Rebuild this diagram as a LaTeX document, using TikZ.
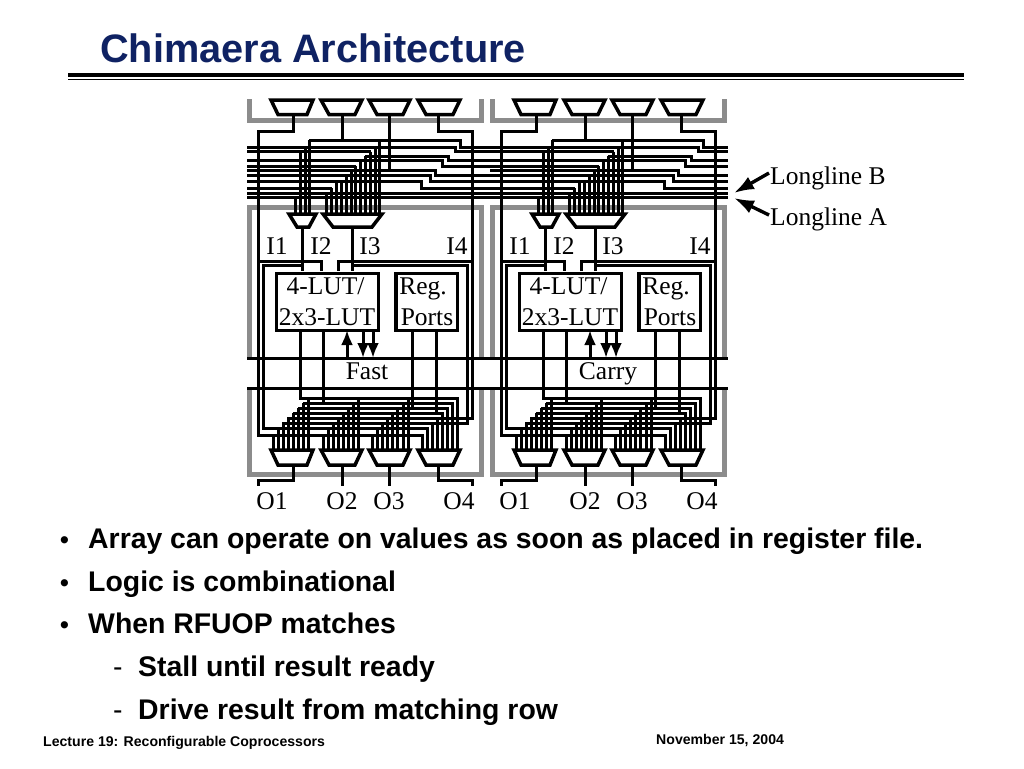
\documentclass[tikz,border=0pt]{standalone}
\usepackage{fontspec}
\setmainfont{Liberation Sans}
\newfontfamily\figfont{Liberation Serif}
\usetikzlibrary{arrows.meta}
\definecolor{navy}{HTML}{0F2263}
\definecolor{frame}{HTML}{8C8C8C}
\tikzset{
  wire/.style={draw=black,line width=3pt,line cap=butt,line join=miter},
  gframe/.style={draw=frame,line width=5pt,line join=miter},
  muxshape/.style={draw=black,line width=3.5pt,line join=miter,fill=white},
  boxshape/.style={draw=black,line width=3.3pt,fill=white,inner sep=0pt,anchor=north west},
  figlabel/.style={font=\figfont\fontsize{25.5}{27}\selectfont,inner sep=0pt,anchor=base},
  bulletlabel/.style={font=\bfseries\fontsize{28.4}{30}\selectfont,anchor=base west,inner sep=0pt},
  dashlabel/.style={font=\fontsize{28.4}{30}\selectfont,anchor=base west,inner sep=0pt},
  bulletdot/.style={font=\bfseries\fontsize{25}{30}\selectfont,anchor=base west,inner sep=0pt},
  footlabel/.style={font=\bfseries\fontsize{14.1}{16}\selectfont,anchor=base west,inner sep=0pt},
  arrowwire/.style={draw=black,line width=3pt,-{Latex[length=15pt,width=12pt]}},
  longarrow/.style={draw=black,line width=3.4pt,-{Latex[length=20pt,width=14pt]}}
}
\begin{document}
\begin{tikzpicture}[x=1pt,y=-1pt]
\useasboundingbox (0,0) rectangle (1024,768);
\fill[white] (0,0) rectangle (1024,768);
% title
\node[anchor=base west,inner sep=0pt,font=\bfseries\fontsize{39.7}{41}\selectfont,text=navy] (title) at (100,63) {Chimaera Architecture};
\coordinate (ruleL) at (68,75.3); \coordinate (ruleR) at (964,75.3);
\draw[black,line width=3.8pt] (ruleL) -- (ruleR);
\coordinate (rule2L) at (68,79.3); \coordinate (rule2R) at (964,79.3);
\draw[black,line width=1.2pt] (rule2L) -- (rule2R);
\foreach \o/\r in {0/490,243/485}{
\begin{scope}[xshift=\o pt]
  % grey frames
  \draw[gframe] (249.5,99) -- (249.5,120.5) -- (481.5,120.5) -- (481.5,99);
  \draw[gframe] (249.5,357) -- (249.5,207.5) -- (481.5,207.5) -- (481.5,357);
  \draw[gframe] (249.5,390) -- (249.5,474) -- (481.5,474) -- (481.5,390);
  % longlines
  \draw[wire] (247,193) -- (\r,193);
  \draw[wire] (247,197.5) -- (\r,197.5);
  \draw[wire] (309,140) -- (460,140) -- (460,147) -- (\r,147);
  \draw[wire] (247,147) -- (455,147) -- (455,151.5) -- (\r,151.5);
  \draw[wire] (247,151.5) -- (371,151.5);
  \draw[wire] (365,156) -- (448,156) -- (448,160.5) -- (\r,160.5);
  \draw[wire] (247,160.5) -- (442,160.5) -- (442,166) -- (\r,166);
  \draw[wire] (247,166) -- (356,166);
  \draw[wire] (247,170) -- (435,170) -- (435,175) -- (\r,175);
  \draw[wire] (247,175) -- (430,175) -- (430,181) -- (\r,181);
  \draw[wire] (247,181) -- (421,181) -- (421,188) -- (\r,188);
  \draw[wire] (247,188) -- (332,188);
  % taps to the small mux
  \foreach \x/\y in {295/197.5,300/151.5,305/147,309.5/140}{\draw[wire] (\x,\y) -- (\x,213);}
  % taps to the big mux
  \foreach \x/\y in {326/193,331/188,336/181,341/181,346/175,351/170,355.5/166,360/160.5,365/156,370/151.5,375/147,379.5/140}{\draw[wire] (\x,\y) -- (\x,213);}
  % top muxes
  \draw[muxshape] (271,100) -- (313,100) -- (307,114.5) -- (278,114.5) -- cycle;
  \draw[muxshape] (321,100) -- (362,100) -- (355,114.5) -- (329,114.5) -- cycle;
  \draw[muxshape] (369,100) -- (410,100) -- (403,114.5) -- (377,114.5) -- cycle;
  \draw[muxshape] (418,100) -- (460,100) -- (453,114.5) -- (426,114.5) -- cycle;
  % input muxes
  \draw[muxshape] (289,214) -- (316,214) -- (309,227) -- (297,227) -- cycle;
  \draw[muxshape] (323,214) -- (382,214) -- (372,227) -- (333,227) -- cycle;
  % top mux outputs
  \draw[wire] (342,115) -- (342,140);
  \draw[wire] (389,115) -- (389,170);
  % I1, I4
  \draw[wire] (293,115) -- (293,131) -- (258,131) -- (258,435) -- (422,435) -- (422,449);
  \draw[wire] (438,115) -- (438,131) -- (472,131) -- (472,418) -- (288,418) -- (288,449);
  \draw[wire] (258,261) -- (321,261) -- (321,271);
  \draw[wire] (472,261) -- (338,261) -- (338,271);
  % I2, I3
  \draw[wire] (302,227) -- (302,271);
  \draw[wire] (352,227) -- (352,271);
  \draw[wire] (302,265) -- (263,265) -- (263,428) -- (427,428) -- (427,449);
  \draw[wire] (352,265) -- (467,265) -- (467,423) -- (283,423) -- (283,449);
  % LUT and register outputs
  \draw[wire] (300,329) -- (300,398) -- (457,398) -- (457,449);
  \draw[wire] (323,329) -- (323,403);
  \draw[wire] (303,403) -- (452,403) -- (452,449);
  \draw[wire] (412,329) -- (412,408);
  \draw[wire] (298,408) -- (447,408) -- (447,449);
  \draw[wire] (436,329) -- (436,413);
  \draw[wire] (293,413) -- (442,413) -- (442,449);
  \draw[wire] (437,418) -- (437,449);
  \draw[wire] (432,423) -- (432,449);
  % stairs to the output muxes
  \foreach \x/\y in {273/435,278/428,283/423,288/418,293/413,298/408,303/403,308/398}{\draw[wire] (\x,\y) -- (\x,449);}
  \foreach \x/\y in {323/435,328/428,333/423,338/418,343/413,348/408,353/403,358/398}{\draw[wire] (\x,\y) -- (\x,449);}
  \foreach \x/\y in {372/435,377/428,382/423,387/418,392/413,397.5/408,403/403,408/398}{\draw[wire] (\x,\y) -- (\x,449);}
  % output muxes
  \draw[muxshape] (271,450) -- (313,450) -- (307,465) -- (278,465) -- cycle;
  \draw[muxshape] (321,450) -- (362,450) -- (355,465) -- (329,465) -- cycle;
  \draw[muxshape] (369,450) -- (410,450) -- (403,465) -- (377,465) -- cycle;
  \draw[muxshape] (418,450) -- (460,450) -- (453,465) -- (426,465) -- cycle;
  \draw[wire] (293,465) -- (293,480) -- (258,480) -- (258,486);
  \draw[wire] (342,465) -- (342,486);
  \draw[wire] (389,465) -- (389,486);
  \draw[wire] (438,465) -- (438,480) -- (472,480) -- (472,486);
  % arrows
  \draw[arrowwire] (347,358) -- (347,330);
  \draw[arrowwire] (363,330) -- (363,358);
  \draw[arrowwire] (373,330) -- (373,358);
\end{scope}
}
\coordinate (busA) at (247,358); \coordinate (busB) at (728,358);
\coordinate (busC) at (247,388); \coordinate (busD) at (728,388);
\draw[wire] (busA) -- (busB);
\draw[wire] (busC) -- (busD);
% boxes and labels
\foreach \o/\oname in {0/a,243/b}{
  \node[boxshape,minimum width=102pt,minimum height=57pt] (lut\oname) at (274.7+\o,271.5) {};
  \node[boxshape,minimum width=61.7pt,minimum height=57pt] (reg\oname) at (394.3+\o,271.5) {};
  \node[figlabel] (luttxt\oname) at (325.5+\o,294) {4-LUT/};
  \node[figlabel] (luttwo\oname) at (327+\o,325) {2x3-LUT};
  \node[figlabel] (regtxt\oname) at (423+\o,294) {Reg.};
  \node[figlabel] (regtwo\oname) at (427+\o,325) {Ports};
  \node[figlabel] (ione\oname) at (277+\o,254) {I1};
  \node[figlabel] (itwo\oname) at (321+\o,254) {I2};
  \node[figlabel] (ithree\oname) at (370+\o,254) {I3};
  \node[figlabel] (ifour\oname) at (457+\o,254) {I4};
  \node[figlabel] (oone\oname) at (272+\o,509) {O1};
  \node[figlabel] (otwo\oname) at (342+\o,509) {O2};
  \node[figlabel] (othree\oname) at (389+\o,509) {O3};
  \node[figlabel] (ofour\oname) at (459+\o,509) {O4};
}
\node[figlabel] (fast) at (367,379) {Fast};
\node[figlabel] (carry) at (608,379) {Carry};
% longline labels
\node[figlabel,anchor=base west] (llb) at (770,184) {Longline B};
\node[figlabel,anchor=base west] (lla) at (770,225) {Longline A};
\coordinate (startb) at (769,173); \coordinate (starta) at (769,215);
\coordinate (tipb) at (734,193); \coordinate (tipa) at (734,198);
\draw[longarrow] (startb) -- (tipb);
\draw[longarrow] (starta) -- (tipa);
% bullets
\node[bulletdot] (d1) at (60,548) {•};
\node[bulletlabel] (b1) at (88,548) {Array can operate on values as soon as placed in register file.};
\node[bulletdot] (d2) at (60,591) {•};
\node[bulletlabel] (b2) at (88,591) {Logic is combinational};
\node[bulletdot] (d3) at (60,633) {•};
\node[bulletlabel] (b3) at (88,633) {When RFUOP matches};
\node[dashlabel] (d4) at (113,676) {-};
\node[bulletlabel] (b4) at (138,676) {Stall until result ready};
\node[dashlabel] (d5) at (113,719) {-};
\node[bulletlabel] (b5) at (138,719) {Drive result from matching row};
% footer
\node[footlabel] (fl) at (43,746.5) {Lecture 19: Reconfigurable Coprocessors};
\node[footlabel] (fr) at (656,744.5) {November 15, 2004};
\end{tikzpicture}
\end{document}
